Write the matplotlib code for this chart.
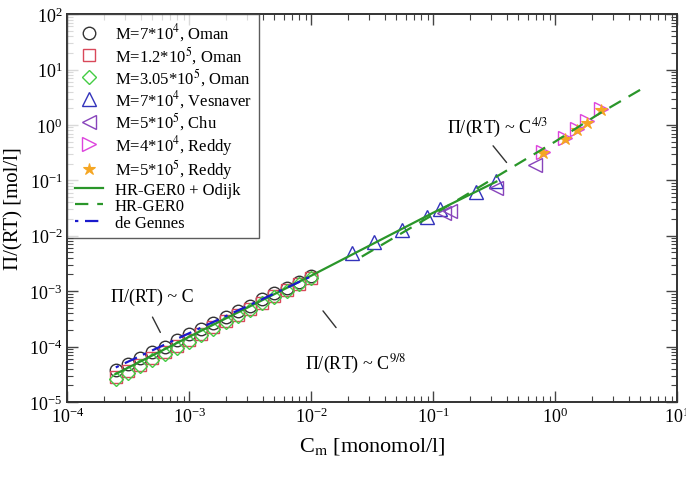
import numpy as np
import matplotlib.pyplot as plt
from matplotlib.ticker import LogLocator, NullFormatter

plt.rcParams['font.family'] = ['Liberation Serif', 'DejaVu Serif']
plt.rcParams['mathtext.fontset'] = 'stix'

# Oman data (shared concentrations)
c_oman = [2.5e-4, 3.15e-4, 3.95e-4, 5.0e-4, 6.3e-4, 7.9e-4, 1.0e-3, 1.26e-3, 1.58e-3,
          2.0e-3, 2.5e-3, 3.15e-3, 3.95e-3, 5.0e-3, 6.3e-3, 7.9e-3, 1.0e-2]
p_oman_7e4 = [3.8e-5, 4.9e-5, 6.2e-5, 7.9e-5, 1.0e-4, 1.29e-4, 1.66e-4, 2.1e-4, 2.7e-4,
              3.4e-4, 4.4e-4, 5.5e-4, 7.1e-4, 9.1e-4, 1.15e-3, 1.48e-3, 1.9e-3]
p_oman_12e5 = [2.8e-5, 3.6e-5, 4.7e-5, 6.2e-5, 7.9e-5, 1.02e-4, 1.32e-4, 1.7e-4, 2.24e-4,
               2.9e-4, 3.7e-4, 4.8e-4, 6.2e-4, 8.1e-4, 1.05e-3, 1.35e-3, 1.74e-3]
p_oman_305e5 = [2.6e-5, 3.3e-5, 4.4e-5, 5.6e-5, 7.4e-5, 9.5e-5, 1.23e-4, 1.62e-4, 2.1e-4,
                2.75e-4, 3.55e-4, 4.6e-4, 6.0e-4, 7.8e-4, 1.02e-3, 1.32e-3, 1.7e-3]

# Vesnaver
c_vesn = [0.0215, 0.033, 0.056, 0.089, 0.114, 0.224, 0.33]
p_vesn = [4.8e-3, 7.6e-3, 0.0128, 0.0215, 0.030, 0.061, 0.096]

# Chu
c_chu = [0.123, 0.137, 0.33, 0.68]
p_chu = [0.026, 0.028, 0.074, 0.19]

# Reddy
c_reddy = [0.80, 1.21, 1.52, 1.83, 2.36]
p_reddy_4e4 = [0.33, 0.59, 0.85, 1.17, 1.97]
p_reddy_5e5 = [0.31, 0.55, 0.80, 1.10, 1.85]

# theory curves
c_odijk = [2.5e-4, 1e-3, 1e-2, 0.1, 0.33]
p_odijk = [3.2e-5, 1.5e-4, 1.9e-3, 0.026, 0.095]
c_hrger0 = [0.026, 0.1, 0.38, 1.0, 2.3, 5.6]
p_hrger0 = [4.2e-3, 0.024, 0.14, 0.50, 1.6, 5.0]
c_degennes = [2.5e-4, 1e-2]
p_degennes = [4.2e-5, 1.85e-3]

fig = plt.figure(figsize=(6.86, 4.89), dpi=100)
ax = fig.add_axes([0.098, 0.176, 0.889, 0.793])

mk = dict(linestyle='none', markerfacecolor='none', markeredgewidth=1.0)
ax.plot(c_oman, p_oman_7e4, marker='o', ms=9, color='#333333', label='M=7*10$^4$, Oman', **mk)
ax.plot(c_oman, p_oman_12e5, marker='s', ms=8, color='#d9485a', label='M=1.2*10$^5$, Oman', **mk)
ax.plot(c_oman, p_oman_305e5, marker='D', ms=7, color='#44cc44', label='M=3.05*10$^5$, Oman', **mk)
ax.plot(c_vesn, p_vesn, marker='^', ms=9.5, color='#3333bb', label='M=7*10$^4$, Vesnaver', **mk)
ax.plot(c_chu, p_chu, marker='<', ms=9.5, color='#8844bb', label='M=5*10$^5$, Chu', **mk)
ax.plot(c_reddy, p_reddy_4e4, marker='>', ms=9.5, color='#dd44dd', label='M=4*10$^4$, Reddy', **mk)
ax.plot(c_reddy, p_reddy_5e5, marker='*', ms=9, color='#f5a623', label='M=5*10$^5$, Reddy',
        linestyle='none', markeredgewidth=0.8)
ax.plot(c_odijk, p_odijk, '-', color='#2a962a', lw=1.6, label='HR-GER0 + Odijk')
ax.plot(c_hrger0, p_hrger0, '--', color='#2a962a', lw=1.6, dashes=(6, 4), label='HR-GER0')
ax.plot(c_degennes, p_degennes, color='#1a1acc', lw=1.6, dashes=(1.5, 3, 6, 3), label='de Gennes')

ax.set_xscale('log')
ax.set_yscale('log')
ax.set_xlim(1e-4, 10)
ax.set_ylim(1e-5, 100)

ax.xaxis.set_major_locator(LogLocator(base=10, numticks=10))
ax.xaxis.set_minor_locator(LogLocator(base=10, subs=np.arange(2, 10), numticks=20))
ax.yaxis.set_major_locator(LogLocator(base=10, numticks=10))
ax.yaxis.set_minor_locator(LogLocator(base=10, subs=np.arange(2, 10), numticks=20))
ax.xaxis.set_minor_formatter(NullFormatter())
ax.yaxis.set_minor_formatter(NullFormatter())
ax.tick_params(which='both', direction='in', top=True, right=True, labelsize=13, color='#444444')
ax.tick_params(which='major', length=8, width=1.0)
ax.tick_params(which='minor', length=4, width=0.8)
for s in ax.spines.values():
    s.set_linewidth(1.4)
    s.set_color('#333333')

ax.set_xlabel('C$_\\mathrm{m}$ [monomol/l]', fontsize=16, labelpad=6)
ax.set_ylabel('\u03a0/(RT) [mol/l]', fontsize=15, labelpad=4)

# scaling annotations: pointer segments + labels
line_kw = dict(arrowstyle='-', color='#333333', lw=1, shrinkA=0, shrinkB=0)
ax.annotate('', xy=(5.8e-4, 1.8e-4), xytext=(5.0e-4, 3.4e-4), arrowprops=line_kw)
ax.text(5.0e-4, 8.0e-4, '\u03a0/(RT) ~ C', fontsize=13, ha='center', va='center')

ax.annotate('', xy=(0.016, 2.2e-4), xytext=(0.0125, 4.4e-4), arrowprops=line_kw)
ax.text(8.9e-3, 5.0e-5, '\u03a0/(RT) ~ C$^{9/8}$', fontsize=13, ha='left', va='center')

ax.annotate('', xy=(0.40, 0.21), xytext=(0.31, 0.42), arrowprops=line_kw)
ax.text(0.34, 0.9, '\u03a0/(RT) ~ C$^{4/3}$', fontsize=13, ha='center', va='center')

leg = ax.legend(loc='upper left', borderaxespad=0, fontsize=12, frameon=True, fancybox=False,
                handlelength=1.7, handletextpad=0.7, labelspacing=0.03, borderpad=0.45)
leg.get_frame().set_edgecolor('#333333')
leg.get_frame().set_linewidth(1.0)

fig.savefig('out.png', dpi=100)
